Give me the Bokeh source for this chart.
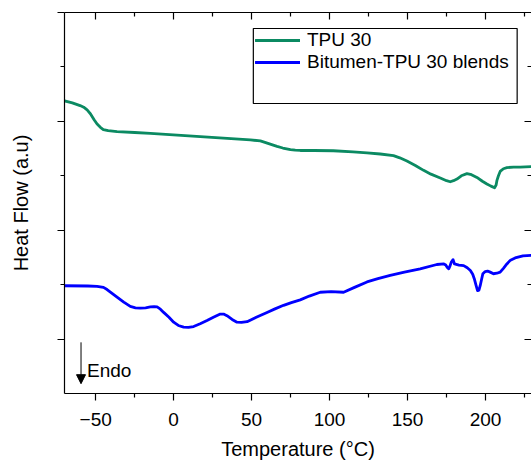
from bokeh.plotting import figure
from bokeh.models import (Range1d, LinearAxis, FixedTicker, Legend, LegendItem,
                          Arrow, NormalHead, Label, BoxAnnotation, CustomJSTickFormatter)
from bokeh.embed import file_html
from bokeh.resources import INLINE

# ---------------- data ----------------
tpu_T = [-70.5, -65.0, -60.0, -57.7, -55.5, -53.4, -51.0, -49.1, -47.0, -45.1, -42.0,
         -36.3, -25.0, -14.9, 17.1, 49.2, 55.6, 60.0, 66.3, 70.0, 74.9, 78.0, 81.2,
         90.0, 102.4, 115.0, 124.0, 132.5, 141.0, 145.0, 149.6, 155.0, 160.3, 165.0,
         171.0, 175.0, 177.4, 179.5, 181.7, 184.5, 188.1, 191.0, 194.5, 198.0, 200.9,
         203.5, 205.8, 206.8, 207.3, 208.3, 209.4, 211.5, 213.7, 218.0, 222.2, 229.6]
tpu_hf = [4.38, 4.34, 4.29, 4.26, 4.21, 4.14, 4.03, 3.95, 3.89, 3.85, 3.83,
          3.81, 3.795, 3.78, 3.72, 3.66, 3.64, 3.60, 3.54, 3.51, 3.48, 3.47, 3.465,
          3.465, 3.46, 3.44, 3.42, 3.40, 3.37, 3.33, 3.27, 3.19, 3.10, 3.03,
          2.96, 2.91, 2.89, 2.91, 2.94, 3.00, 3.04, 3.02, 2.97, 2.90, 2.85,
          2.81, 2.78, 2.83, 2.91, 3.00, 3.08, 3.13, 3.15, 3.16, 3.16, 3.17]

blend_T = [-70.5, -55.0, -49.1, -45.0, -42.7, -39.5, -36.3, -32.0, -27.8, -24.5, -21.3,
           -18.0, -14.9, -12.5, -10.6, -8.5, -6.4, -3.0, 0.0, 3.0, 6.4, 9.5, 12.8,
           17.0, 21.4, 25.5, 29.9, 32.0, 34.2, 37.5, 40.6, 43.5, 47.1, 53.0, 59.9,
           65.0, 70.5, 75.5, 81.2, 87.0, 94.0, 101.0, 109.0, 116.0, 124.0, 131.0,
           138.9, 148.0, 158.1, 168.8, 173.3, 174.5, 175.4, 176.4, 177.2, 178.0,
           179.2, 180.1, 183.0, 186.0, 188.3, 190.3, 191.8, 192.8, 194.0, 194.9,
           195.8, 196.6, 197.5, 198.3, 199.8, 201.3, 203.0, 205.1, 207.3, 209.4,
           211.5, 213.7, 216.0, 219.0, 224.0, 229.6]
blend_hf = [0.98, 0.975, 0.97, 0.95, 0.91, 0.84, 0.77, 0.68, 0.60, 0.575, 0.57,
            0.575, 0.59, 0.595, 0.59, 0.55, 0.49, 0.40, 0.31, 0.25, 0.22, 0.215, 0.23,
            0.28, 0.34, 0.40, 0.46, 0.46, 0.43, 0.36, 0.31, 0.305, 0.32, 0.40, 0.49,
            0.555, 0.62, 0.67, 0.72, 0.79, 0.86, 0.87, 0.86, 0.95, 1.05, 1.11,
            1.17, 1.23, 1.29, 1.37, 1.38, 1.36, 1.32, 1.29, 1.34, 1.41,
            1.46, 1.38, 1.36, 1.35, 1.31, 1.26, 1.19, 1.11, 0.98, 0.89,
            0.90, 0.98, 1.10, 1.20, 1.24, 1.25, 1.23, 1.20, 1.21, 1.23,
            1.30, 1.38, 1.45, 1.49, 1.53, 1.54]

series_names = ["TPU 30", "Bitumen-TPU 30 blends"]
series_colors = ["#0B8A62", "#0000FF"]

x_major = [-50, 0, 50, 100, 150, 200]
x_minor = [-25, 25, 75, 125, 175, 225]
y_major = [0, 2, 4, 6]
y_minor = [1, 3, 5]

FONT = "Liberation Sans"

# ---------------- figure ----------------
p = figure(frame_width=467, frame_height=381, min_border_left=64, min_border_right=0,
           min_border_top=12, min_border_bottom=70,
           x_range=Range1d(-70, 229.5), y_range=Range1d(-1, 6),
           output_backend="svg", toolbar_location=None, tools="",
           x_axis_type=None, y_axis_type=None)
p.outline_line_color = None
p.xgrid.visible = False
p.ygrid.visible = False
p.background_fill_color = "white"
p.border_fill_color = "white"

blank = CustomJSTickFormatter(code="return ''")

def style_axis(ax, inward, labels):
    ax.axis_line_color = "black"
    ax.axis_line_width = 1.2
    ax.major_tick_line_color = "black"
    ax.minor_tick_line_color = "black"
    ax.major_tick_line_width = 1.2
    ax.minor_tick_line_width = 1.2
    if inward:
        ax.major_tick_in, ax.major_tick_out = 7, 0
        ax.minor_tick_in, ax.minor_tick_out = 4, 0
    else:
        ax.major_tick_in, ax.major_tick_out = 0, 7
        ax.minor_tick_in, ax.minor_tick_out = 0, 4
    if not labels:
        ax.formatter = blank
        ax.major_label_standoff = 0
    ax.major_label_text_font = FONT
    ax.major_label_text_font_size = "19px"
    ax.major_label_text_color = "black"
    ax.axis_label_text_font = FONT
    ax.axis_label_text_font_size = "20px"
    ax.axis_label_text_font_style = "normal"
    ax.axis_label_text_color = "black"

xt = FixedTicker(ticks=x_major, minor_ticks=x_minor)
yt = FixedTicker(ticks=y_major, minor_ticks=y_minor)

bottom = LinearAxis(ticker=xt, axis_label="Temperature (°C)")
style_axis(bottom, False, True)
bottom.major_label_standoff = 12
bottom.axis_label_standoff = 9
p.add_layout(bottom, "below")

top = LinearAxis(ticker=xt)
style_axis(top, True, False)
p.add_layout(top, "above")

left = LinearAxis(ticker=yt, axis_label="Heat Flow (a.u)")
style_axis(left, False, False)
left.axis_label_standoff = 26
p.add_layout(left, "left")

right = LinearAxis(ticker=yt)
style_axis(right, True, False)
right.axis_line_color = None
p.add_layout(right, "right")

r1 = p.line(tpu_T, tpu_hf, line_color=series_colors[0], line_width=2.8,
            line_join="round", line_cap="round")
r2 = p.line(blend_T, blend_hf, line_color=series_colors[1], line_width=2.8,
            line_join="round", line_cap="round")

# legend frame
box = BoxAnnotation(left=51.1, right=220.3, top=5.706, bottom=4.328,
                    fill_color="white", fill_alpha=1.0,
                    line_color="black", line_alpha=1.0, line_width=1.2, level="overlay")
p.add_layout(box)

legend = Legend(items=[LegendItem(label=series_names[0], renderers=[r1]),
                       LegendItem(label=series_names[1], renderers=[r2])],
                location=(191, 320), padding=0, margin=0, spacing=0,
                glyph_width=45, glyph_height=20, label_height=20, label_standoff=7,
                label_text_font=FONT, label_text_font_size="19px",
                label_text_color="black",
                border_line_alpha=0, background_fill_alpha=0)
p.add_layout(legend)

# Endo arrow
arrow = Arrow(end=NormalHead(size=9, fill_color="black", line_color="black", line_width=1),
              x_start=-59.4, y_start=-0.06, x_end=-59.4, y_end=-0.82,
              line_color="black", line_width=1)
p.add_layout(arrow)
p.add_layout(Label(x=-55.6, y=-0.58, text="Endo", text_baseline="middle",
                   text_font=FONT, text_font_size="19px", text_color="black"))

open("out.html", "w").write(file_html(p, INLINE))
